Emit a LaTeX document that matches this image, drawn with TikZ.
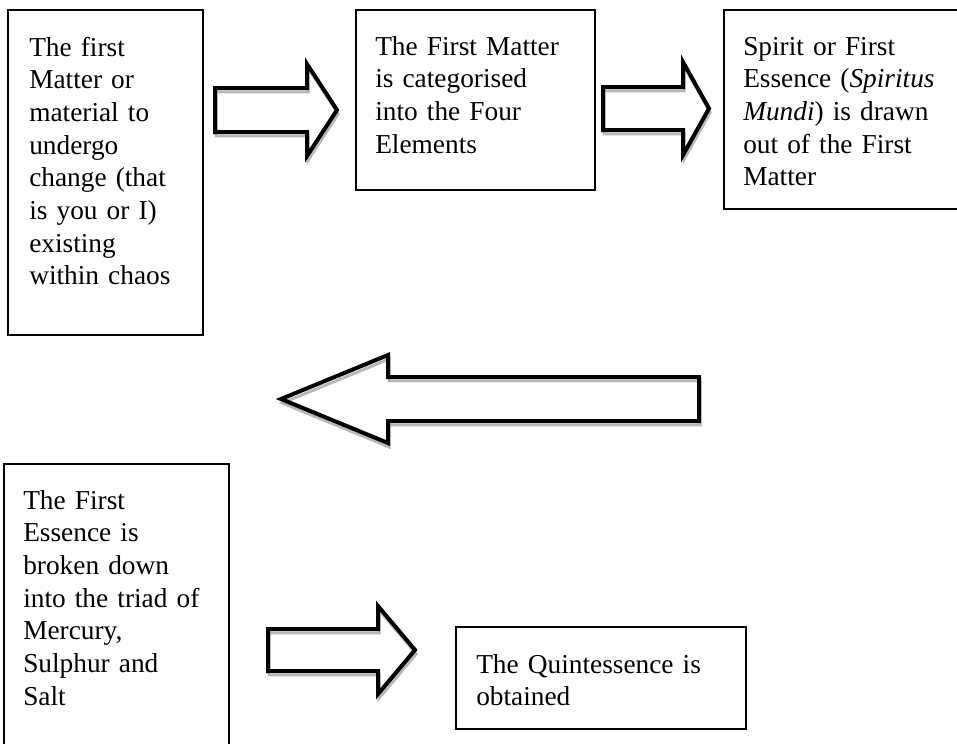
\documentclass[tikz,border=0pt]{standalone}
\usepackage{fontspec}
\setmainfont{Liberation Serif}
\usetikzlibrary{fit}
\tikzset{
  boxframe/.style={draw=black, line width=1.5pt, inner sep=0pt},
  txt/.style={anchor=base west, inner sep=0pt, text width=240pt, align=left,
    font=\fontsize{20.5pt}{24.5pt}\selectfont},
  blockarrow/.style={draw=black, line width=3pt, line join=miter,
    preaction={draw=black!28, line width=2.2pt, line join=miter,
      transform canvas={xshift=0.9pt, yshift=-3pt}}}
}
\begin{document}
\begin{tikzpicture}[x=0.75pt, y=-0.75pt]
\clip (0,0) rectangle (957,743);
\fill[white] (0,0) rectangle (957,743);

% boxes
\node[boxframe, fit={(8,10) (203,335)}] (b1) {};
\node[boxframe, fit={(356,10) (595,190)}] (b2) {};
\node[boxframe, fit={(724,10) (990,209)}] (b3) {};
\node[boxframe, fit={(4,464) (229,780)}] (b4) {};
\node[boxframe, fit={(456,627) (746,729)}] (b5) {};

% texts
\node[txt] (t1) at (29,56) {The first\\Matter or\\material to\\undergo\\change (that\\is you or I)\\existing\\within chaos};
\node[txt] (t2) at (375,55) {The First Matter\\is categorised\\into the Four\\Elements};
\node[txt] (t3) at (743,55) {Spirit or First\\Essence (\textit{Spiritus}\\\textit{Mundi}) is drawn\\out of the First\\Matter};
\node[txt] (t4) at (23,509) {The First\\Essence is\\broken down\\into the triad of\\Mercury,\\Sulphur and\\Salt};
\node[txt] (t5) at (476,673) {The Quintessence is\\obtained};

% block arrows
\draw[blockarrow] (215,88) -- (307,88) -- (307,64) -- (337,110) -- (307,156) -- (307,132) -- (215,132) -- cycle;
\draw[blockarrow] (603,87) -- (683,87) -- (683,62) -- (709,108.5) -- (683,155) -- (683,130) -- (603,130) -- cycle;
\draw[blockarrow] (699,377) -- (388,377) -- (388,355) -- (281,399) -- (388,443) -- (388,421) -- (699,421) -- cycle;
\draw[blockarrow] (268,629) -- (378,629) -- (378,606) -- (415,650) -- (378,694) -- (378,671) -- (268,671) -- cycle;
\end{tikzpicture}
\end{document}
